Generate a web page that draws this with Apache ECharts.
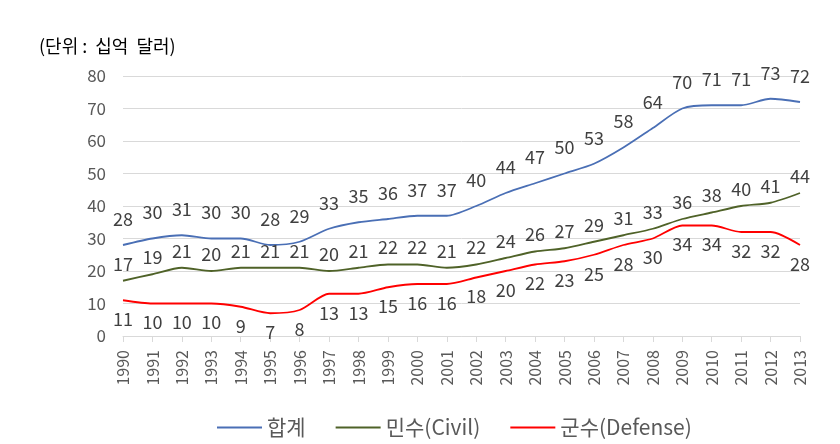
<!DOCTYPE html>
<html><head><meta charset="utf-8">
<script src="https://cdn.jsdelivr.net/npm/echarts@6/dist/echarts.min.js"></script>
<style>html,body{margin:0;padding:0;background:#fff}#c{width:840px;height:444px}</style>
</head><body><div id="c"></div>
<script>
const years = ['1990','1991','1992','1993','1994','1995','1996','1997','1998','1999','2000','2001','2002','2003','2004','2005','2006','2007','2008','2009','2010','2011','2012','2013'];
const total = [28,30,31,30,30,28,29,33,35,36,37,37,40,44,47,50,53,58,64,70,71,71,73,72];
const civil = [17,19,21,20,21,21,21,20,21,22,22,21,22,24,26,27,29,31,33,36,38,40,41,44];
const defense = [11,10,10,10,9,7,8,13,13,15,16,16,18,20,22,23,25,28,30,34,34,32,32,28];
const seriesNames = ['합계','민수(Civil)','군수(Defense)'];
const yTicks = [0,10,20,30,40,50,60,70,80];

const font = "'Noto Sans CJK KR','Noto Sans',sans-serif";
const chart = echarts.init(document.getElementById('c'));
function mk(name, data, color, pos, dist){
  return {name, type:'line', data, smooth:0.25, symbol:'circle', symbolSize:0.01, showSymbol:true,
    lineStyle:{color, width:1.8}, itemStyle:{color},
    label:{show:true, position:pos, distance:dist, color:'#404040', fontSize:18, fontFamily:font}};
}
chart.setOption({
  animation:false,
  title:{text:'(단위 :  십억  달러)', left:34, top:32, textStyle:{fontSize:18, fontWeight:'normal', color:'#000', fontFamily:font}},
  grid:{left:123, right:40, top:76, bottom:108},
  legend:{top:412, left:212, itemWidth:45, itemHeight:2, itemGap:30, icon:'rect',
    textStyle:{fontSize:21, color:'#595959', fontFamily:font}, data:seriesNames},
  xAxis:{type:'category', data:years, boundaryGap:false,
    axisLine:{lineStyle:{color:'#d9d9d9'}}, axisTick:{show:true, length:6, lineStyle:{color:'#d9d9d9'}},
    axisLabel:{rotate:90, fontSize:16, color:'#595959', margin:14, fontFamily:font, interval:0}},
  yAxis:{type:'value', min:yTicks[0], max:yTicks[yTicks.length-1], interval:10,
    axisLine:{show:false}, axisTick:{show:false},
    axisLabel:{fontSize:17, color:'#595959', margin:17, fontFamily:font},
    splitLine:{lineStyle:{color:'#d9d9d9'}}},
  series:[
    mk(seriesNames[0], total, '#4a6fb5', 'top', 17),
    mk(seriesNames[1], civil, '#4f6228', 'top', 8),
    mk(seriesNames[2], defense, '#ff0000', 'bottom', 10)
  ]
});
</script></body></html>
